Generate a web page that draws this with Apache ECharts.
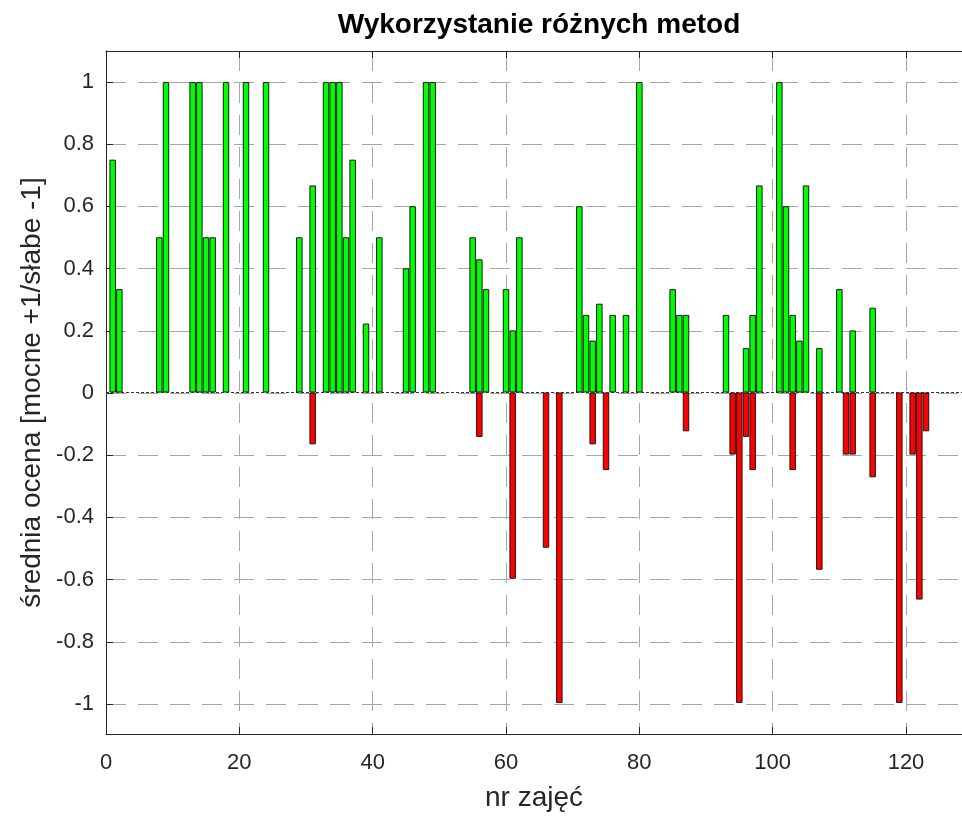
<!DOCTYPE html>
<html>
<head>
<meta charset="utf-8">
<script src="https://cdn.jsdelivr.net/npm/echarts@6/dist/echarts.min.js"></script>
<style>html,body{margin:0;padding:0;background:#fff}#c{width:962px;height:817px}</style>
</head>
<body>
<div id="c"></div>
<script>
// Data
const posX = [1,2,8,9,13,14,15,16,18,21,24,29,31,33,34,35,36,37,39,41,45,46,48,49,55,56,57,60,61,62,71,72,73,74,76,78,80,85,86,87,93,96,97,98,101,102,103,104,105,107,110,112,115];
const posY = [0.75,0.333,0.5,1,1,1,0.5,0.5,1,1,1,0.5,0.667,1,1,1,0.5,0.75,0.222,0.5,0.4,0.6,1,1,0.5,0.429,0.333,0.333,0.2,0.5,0.6,0.25,0.167,0.286,0.25,0.25,1,0.333,0.25,0.25,0.25,0.143,0.25,0.667,1,0.6,0.25,0.167,0.667,0.143,0.333,0.2,0.273];
const negX = [31,56,61,66,68,73,75,87,94,95,96,97,103,107,111,112,115,119,121,122,123];
const negY = [-0.167,-0.143,-0.6,-0.5,-1,-0.167,-0.25,-0.125,-0.2,-1,-0.143,-0.25,-0.25,-0.571,-0.2,-0.2,-0.273,-1,-0.2,-0.667,-0.125];
const titleText = 'Wykorzystanie różnych metod';
const xName = 'nr zajęć';
const yName = 'średnia ocena [mocne +1/słabe -1]';

const FONT = 'Liberation Sans';
const AX = '#262626';
const gridDash = {color: '#a6a6a6', width: 1, type: [20, 12]};
const chart = echarts.init(document.getElementById('c'), null, {renderer: 'canvas'});
const X_MAX = 128.4;
chart.setOption({
  animation: false,
  backgroundColor: '#fff',
  graphic: [{
    type: 'text', x: 539, y: 25,
    style: {text: titleText, font: 'bold 28px "' + FONT + '"', fill: '#000',
            align: 'center', verticalAlign: 'middle'}
  }],
  grid: [
    {left: 106, right: 0, top: 51, bottom: 82, containLabel: false},
    {left: 106, right: 0, top: 82, bottom: 113, containLabel: false}
  ],
  xAxis: [
    {type: 'value', gridIndex: 0, min: 0, max: X_MAX, interval: 20, position: 'bottom',
     name: xName, nameLocation: 'middle', nameGap: 50,
     nameTextStyle: {fontFamily: FONT, fontSize: 28, color: AX},
     axisLine: {show: true, onZero: false, lineStyle: {color: AX, width: 1}},
     axisTick: {show: true, inside: true, length: 7, lineStyle: {color: AX}},
     axisLabel: {fontFamily: FONT, fontSize: 22, color: AX, margin: 18, showMaxLabel: false},
     splitLine: {show: true, lineStyle: gridDash}},
    {type: 'value', gridIndex: 0, min: 0, max: X_MAX, interval: 20, position: 'top',
     axisLine: {show: true, onZero: false, lineStyle: {color: AX, width: 1}},
     axisTick: {show: true, inside: true, length: 7, lineStyle: {color: AX}},
     axisLabel: {show: false}, splitLine: {show: false}},
    {type: 'value', gridIndex: 1, min: 0, max: X_MAX, show: false}
  ],
  yAxis: [
    {type: 'value', gridIndex: 0, min: -1.1, max: 1.1,
     name: yName, nameLocation: 'middle', nameGap: 60,
     nameTextStyle: {fontFamily: FONT, fontSize: 28, color: AX},
     axisLine: {show: true, onZero: false, lineStyle: {color: AX, width: 1}},
     axisTick: {show: false}, axisLabel: {show: false}, splitLine: {show: false}},
    {type: 'value', gridIndex: 1, min: -1, max: 1, interval: 0.2,
     axisLine: {show: false},
     axisTick: {show: true, inside: true, length: 7, lineStyle: {color: AX}},
     axisLabel: {fontFamily: FONT, fontSize: 22, color: AX, margin: 12,
       formatter: v => String(parseFloat(v.toFixed(1)))},
     splitLine: {show: true, lineStyle: gridDash}}
  ],
  series: [
    {type: 'bar', xAxisIndex: 0, yAxisIndex: 0, barWidth: 6.5, barGap: '-100%',
     data: posX.map((x, i) => [x, posY[i]]),
     itemStyle: {color: '#00ff00', borderColor: '#1a1a1a', borderWidth: 1},
     markLine: {silent: true, symbol: 'none', label: {show: false},
       lineStyle: {color: '#333', width: 1, type: [3, 2]}, data: [{yAxis: 0}]}},
    {type: 'bar', xAxisIndex: 0, yAxisIndex: 0, barWidth: 6.5, barGap: '-100%',
     data: negX.map((x, i) => [x, negY[i]]),
     itemStyle: {color: '#ff0000', borderColor: '#1a1a1a', borderWidth: 1}}
  ]
});
</script>
</body>
</html>
